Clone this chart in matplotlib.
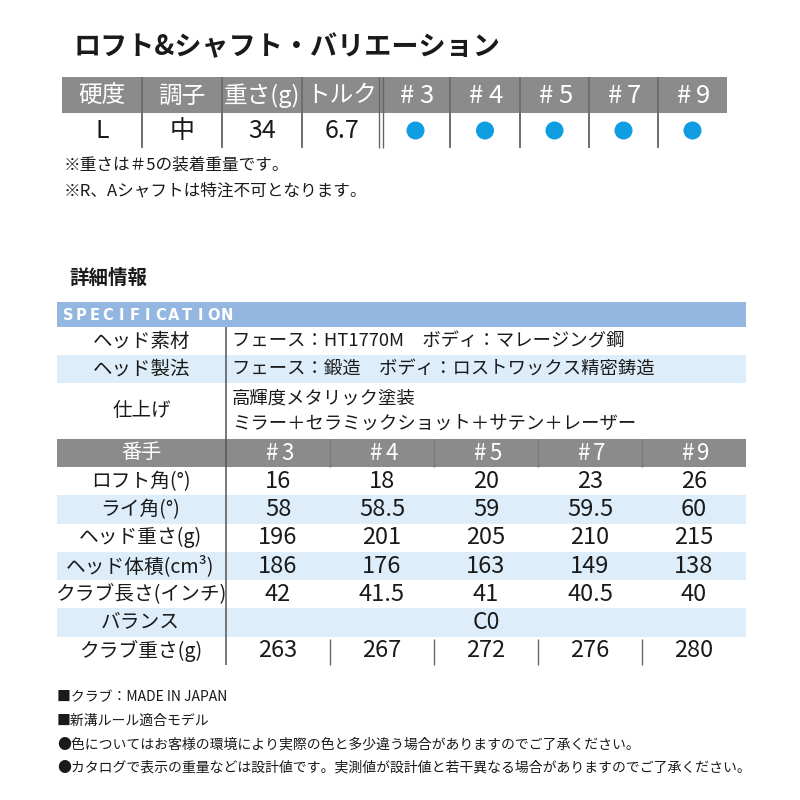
import matplotlib
matplotlib.use('Agg')
import matplotlib.pyplot as plt
from matplotlib.patches import Rectangle, Circle

plt.rcParams['font.family'] = ['Noto Sans CJK JP', 'DejaVu Sans']

# ---------------- data ----------------
title = "ロフト&シャフト・バリエーション"
shaft_headers = ["硬度", "調子", "重さ(g)", "トルク"]
shaft_values = ["L", "中", "34", "6.7"]
clubs = ["#3", "#4", "#5", "#7", "#9"]
club_available = [True, True, True, True, True]
notes = ["※重さは＃5の装着重量です。", "※R、Aシャフトは特注不可となります。"]
detail_title = "詳細情報"
spec_title = "SPECIFICATION"
spec_labels = ["ヘッド素材", "ヘッド製法", "仕上げ"]
spec_texts = [["フェース：HT1770M　ボディ：マレージング鋼"],
              ["フェース：鍛造　ボディ：ロストワックス精密鋳造"],
              ["高輝度メタリック塗装", "ミラー＋セラミックショット＋サテン＋レーザー"]]
number_label = "番手"
row_labels = ["ロフト角(°)", "ライ角(°)", "ヘッド重さ(g)", "ヘッド体積(cm³)",
              "クラブ長さ(インチ)", "バランス", "クラブ重さ(g)"]
loft = ["16", "18", "20", "23", "26"]
lie = ["58", "58.5", "59", "59.5", "60"]
head_weight = ["196", "201", "205", "210", "215"]
head_volume = ["186", "176", "163", "149", "138"]
club_length = ["42", "41.5", "41", "40.5", "40"]
balance = "C0"
club_weight = ["263", "267", "272", "276", "280"]
footer = ["■クラブ：MADE IN JAPAN",
          "■新溝ルール適合モデル",
          "●色についてはお客様の環境により実際の色と多少違う場合がありますのでご了承ください。",
          "●カタログで表示の重量などは設計値です。実測値が設計値と若干異なる場合がありますのでご了承ください。"]

# ---------------- style ----------------
GRAY = "#8b8b8b"
LINE = "#555555"
LIGHT_BLUE = "#ddeefa"
SPEC_BLUE = "#94b7e1"
DOT = "#0f9de2"
TXT = "#1a1a1a"

fig = plt.figure(figsize=(8, 8), dpi=100)
ax = fig.add_axes([0, 0, 1, 1])
ax.set_xlim(0, 800)
ax.set_ylim(800, 0)
ax.axis('off')

def rect(x0, y0, x1, y1, color):
    ax.add_patch(Rectangle((x0, y0), x1 - x0, y1 - y0, facecolor=color, edgecolor='none', zorder=1))

def vline(x, y0, y1, color=LINE, lw=1.1):
    ax.plot([x, x], [y0, y1], color=color, lw=lw, solid_capstyle='butt', zorder=3)

def club_header(cx, cy, label, size, gap):
    # draw "#" and the number with a small gap between them
    ax.text(cx - gap / 2, cy, label[0], fontsize=size, color='white', ha='right', va='center')
    ax.text(cx + gap / 2, cy, label[1:], fontsize=size, color='white', ha='left', va='center')

# title
ax.text(74, 47, title, fontsize=19.5, fontweight='bold', color=TXT, va='center', ha='left')

# top shaft table
col_edges = [62, 142, 222, 302, 381, 450, 520, 589, 658, 727]
h_top, h_mid, h_bot = 77, 113, 148
rect(col_edges[0], h_top, col_edges[-1], h_mid, GRAY)
for i, h in enumerate(shaft_headers):
    cx = (col_edges[i] + col_edges[i + 1]) / 2
    ax.text(cx, (h_top + h_mid) / 2 + 1, h, fontsize=17, color='white', ha='center', va='center')
for j, c in enumerate(clubs):
    i = j + len(shaft_headers)
    cx = (col_edges[i] + col_edges[i + 1]) / 2
    club_header(cx + 1, (h_top + h_mid) / 2 + 1, c, 18.5, 5)
for i, v in enumerate(shaft_values):
    cx = (col_edges[i] + col_edges[i + 1]) / 2
    ax.text(cx, (h_mid + h_bot) / 2 + 1, v, fontsize=18, color=TXT, ha='center', va='center')
for j, avail in enumerate(club_available):
    i = j + len(shaft_values)
    cx = (col_edges[i] + col_edges[i + 1]) / 2
    if avail:
        ax.add_patch(Circle((cx, (h_mid + h_bot) / 2), 9, facecolor=DOT, edgecolor='none', zorder=4))
for k, x in enumerate(col_edges[1:-1]):
    if x == 381:
        vline(379, h_top, h_bot, "#666666", 1.0)
        vline(383, h_top, h_bot, "#666666", 1.0)
    else:
        vline(x, h_top, h_mid, "#6a6a6a", 1.2)
        vline(x, h_mid, h_bot, LINE, 1.2)

# notes
for k, n in enumerate(notes):
    ax.text(64, 165 + 26 * k, n, fontsize=12, color=TXT, ha='left', va='center')

# detail title
ax.text(69, 278, detail_title, fontsize=14, fontweight='bold', color=TXT, ha='left', va='center')

# spec table
L, R = 57, 746
lab_x = 226
rect(L, 302, R, 327, SPEC_BLUE)
for k, ch in enumerate(spec_title):
    ax.text(68 + 13.25 * k, 315, ch, fontsize=10.5, fontweight='bold', color='white',
            ha='center', va='center', family='DejaVu Sans')

spec_rows = [(327, 355), (355, 383), (383, 439)]
for k, (y0, y1) in enumerate(spec_rows):
    if k % 2 == 1:
        rect(L, y0, R, y1, LIGHT_BLUE)
    ax.text((L + lab_x) / 2, (y0 + y1) / 2, spec_labels[k], fontsize=14, color=TXT, ha='center', va='center')
    lines = spec_texts[k]
    n = len(lines)
    for m, t in enumerate(lines):
        yc = (y0 + y1) / 2 + (m - (n - 1) / 2) * 25
        ax.text(232, yc, t, fontsize=13.2, color=TXT, ha='left', va='center')

# number header
data_edges = [226, 330, 434, 538, 642, 746]
hy0, hy1 = 439, 467
rect(L, hy0, R, hy1, GRAY)
ax.text((L + lab_x) / 2, (hy0 + hy1) / 2, number_label, fontsize=14.5, color='white', ha='center', va='center')
for j, c in enumerate(clubs):
    cx = (data_edges[j] + data_edges[j + 1]) / 2
    club_header(cx + 1, (hy0 + hy1) / 2, c, 16, 4)
for x in data_edges[1:-1]:
    vline(x, hy0, hy1, "#7a7a7a", 1.0)

row_values = [loft, lie, head_weight, head_volume, club_length, None, club_weight]
row_h = 28.3
y = hy1
for k, lab in enumerate(row_labels):
    y0, y1 = y, y + row_h
    if k % 2 == 1:
        rect(L, y0, R, y1, LIGHT_BLUE)
    yc = (y0 + y1) / 2
    ax.text((L + lab_x) / 2 - 1, yc, lab, fontsize=14.2, color=TXT, ha='center', va='center')
    vals = row_values[k]
    if vals is None:
        ax.text((data_edges[0] + data_edges[-1]) / 2, yc, balance, fontsize=16.5, color=TXT,
                ha='center', va='center')
    else:
        for j, v in enumerate(vals):
            cx = (data_edges[j] + data_edges[j + 1]) / 2
            ax.text(cx, yc, v, fontsize=17, color=TXT, ha='center', va='center')
    if k == len(row_labels) - 1:
        for x in data_edges[1:-1]:
            vline(x, y0 + 2, y1, "#666666", 1.0)
    y = y1
vline(lab_x, 327, y, LINE, 1.1)

# footer
for k, f in enumerate(footer):
    ax.text(57, 697 + 23.5 * k, f, fontsize=10, color=TXT, ha='left', va='center')

fig.savefig("out.png", dpi=100, facecolor='white')
